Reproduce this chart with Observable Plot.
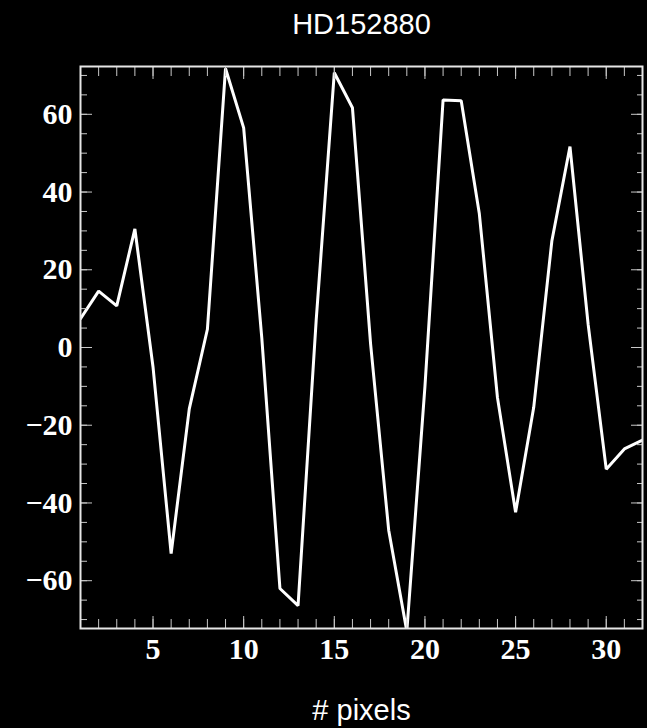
<!DOCTYPE html>
<html>
<head>
<meta charset="utf-8">
<script src="https://cdn.jsdelivr.net/npm/d3@7"></script>
<script src="https://cdn.jsdelivr.net/npm/@observablehq/plot@0.6"></script>
<style>
  html, body { margin: 0; padding: 0; background: #000; }
</style>
</head>
<body>
<div id="chart"></div>
<script>
const title = "HD152880";
const xLabel = "# pixels";
const pixels = [1,2,3,4,5,6,7,8,9,10,11,12,13,14,15,16,17,18,19,20,21,22,23,24,25,26,27,28,29,30,31,32];
const values = [7.4, 14.5, 10.7, 30.5, -5, -53, -15.8, 4.7, 71.8, 56.5, 2.5, -62, -66.4, 7, 70.7, 61.7, 1, -47, -73, -10, 63.7, 63.5, 34.4, -12.9, -42.4, -15.4, 27.4, 51.7, 6, -31.3, -26.1, -23.8];
const xMajor = [5, 10, 15, 20, 25, 30];
const xMinor = d3.range(1, 33);
const yMajor = [-60, -40, -20, 0, 20, 40, 60];
const yMinor = d3.range(-70, 71, 5);
const xDomain = [1, 32];
const yDomain = [-72.3, 72.3];

const data = pixels.map((p, i) => ({p, v: values[i]}));
const tickColor = "#c8c8c8";

const chart = Plot.plot({
  width: 647,
  height: 728,
  marginLeft: 80,
  marginRight: 5,
  marginTop: 66,
  marginBottom: 100,
  style: {background: "#000", color: "#fff", fontFamily: "'Liberation Serif', serif", fontWeight: "bold", fontSize: "30px", overflow: "visible"},
  x: {domain: xDomain},
  y: {domain: yDomain},
  marks: [
    Plot.line(data, {x: "p", y: "v", stroke: "#fff", strokeWidth: 3, clip: true, strokeLinejoin: "miter"}),
    // bottom ticks
    Plot.axisX({anchor: "bottom", ticks: xMinor, tickSize: -9, fill: "none", stroke: tickColor, label: null}),
    Plot.axisX({anchor: "bottom", ticks: xMajor, tickSize: -12, fill: "none", stroke: tickColor, label: null}),
    Plot.axisX({anchor: "bottom", ticks: xMajor, tickSize: 0, tickPadding: 9, fill: "#fff", label: null, fontSize: 30, fontWeight: "bold"}),
    // top ticks
    Plot.axisX({anchor: "top", ticks: xMinor, tickSize: -9, fill: "none", stroke: tickColor, label: null}),
    Plot.axisX({anchor: "top", ticks: xMajor, tickSize: -12, fill: "none", stroke: tickColor, label: null}),
    // left ticks
    Plot.axisY({anchor: "left", ticks: yMinor, tickSize: -7, fill: "none", stroke: tickColor, label: null}),
    Plot.axisY({anchor: "left", ticks: yMajor, tickSize: -12, fill: "none", stroke: tickColor, label: null}),
    Plot.axisY({anchor: "left", ticks: yMajor, tickSize: 0, tickPadding: 8, fill: "#fff", label: null, fontSize: 30, fontWeight: "bold"}),
    // right ticks
    Plot.axisY({anchor: "right", ticks: yMinor, tickSize: -6, fill: "none", stroke: tickColor, label: null}),
    Plot.axisY({anchor: "right", ticks: yMajor, tickSize: -12, fill: "none", stroke: tickColor, label: null}),
    Plot.frame({stroke: "#e6e6e6", strokeWidth: 2}),
    Plot.text([title], {frameAnchor: "top", dy: -33, lineAnchor: "bottom", text: d => d, fill: "#fff", fontSize: 29, fontWeight: "normal", fontFamily: "'Liberation Sans', Arial, sans-serif"}),
    Plot.text([xLabel], {frameAnchor: "bottom", dy: 91, lineAnchor: "bottom", text: d => d, fill: "#fff", fontSize: 29, fontWeight: "normal", fontFamily: "'Liberation Sans', Arial, sans-serif"})
  ]
});
document.getElementById("chart").appendChild(chart);
</script>
</body>
</html>
